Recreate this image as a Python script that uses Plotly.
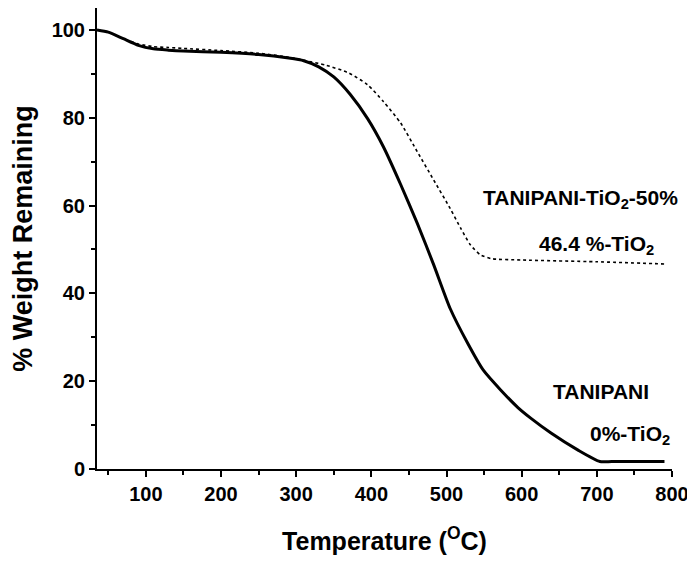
import plotly.graph_objects as go

# TANIPANI (0% TiO2) - solid line
temp_pani = [35, 50, 70, 90, 110, 130, 150, 200, 250, 290, 310, 330, 350, 372, 395, 416, 439, 461, 483, 505, 528, 549, 572, 595, 612, 639, 675, 704, 720, 790]
wt_pani = [100, 99.5, 98.0, 96.5, 95.7, 95.4, 95.2, 94.9, 94.4, 93.6, 93.0, 91.6, 89.3, 85.3, 79.8, 73.4, 64.8, 56.0, 46.5, 36.5, 28.7, 22.5, 18.0, 14.0, 11.6, 8.2, 4.3, 1.7, 1.7, 1.7]

# TANIPANI-TiO2-50% - dotted line
temp_tio2 = [35, 50, 70, 90, 110, 130, 150, 200, 250, 290, 310, 339, 370, 395, 416, 439, 461, 483, 505, 519, 532, 545, 560, 600, 700, 790]
wt_tio2 = [100, 99.5, 98.0, 96.8, 96.2, 96.0, 95.8, 95.3, 94.7, 93.8, 93.1, 92.0, 90.2, 87.5, 83.7, 78.8, 72.3, 65.8, 59.3, 54.8, 51.0, 48.8, 47.9, 47.6, 47.2, 46.7]

x_ticks = [100, 200, 300, 400, 500, 600, 700, 800]
y_ticks = [0, 20, 40, 60, 80, 100]

FONT = "Liberation Sans, Arial, sans-serif"

fig = go.Figure()
fig.add_trace(go.Scatter(x=temp_tio2, y=wt_tio2, mode="lines",
                         line=dict(color="black", width=1.6, dash="dot", shape="spline", smoothing=0.6),
                         showlegend=False))
fig.add_trace(go.Scatter(x=temp_pani, y=wt_pani, mode="lines",
                         line=dict(color="black", width=3, shape="spline", smoothing=0.6),
                         showlegend=False))

ann_font = dict(family=FONT, size=21, color="black", weight="bold")
annotations = [
    dict(x=678, y=61.5, text="TANIPANI-TiO<sub>2</sub>-50%"),
    dict(x=699, y=51.0, text="46.4 %-TiO<sub>2</sub>"),
    dict(x=705, y=17.6, text="TANIPANI"),
    dict(x=744, y=7.8, text="0%-TiO<sub>2</sub>"),
]
for a in annotations:
    a.update(xref="x", yref="y", showarrow=False, font=ann_font, xanchor="center", yanchor="middle")

fig.update_layout(
    width=687, height=561,
    margin=dict(l=89, r=23, t=0, b=100),
    paper_bgcolor="white", plot_bgcolor="white",
    font=dict(family=FONT, color="black"),
    annotations=annotations,
    xaxis=dict(range=[35, 800], tickvals=x_ticks, showline=True, linecolor="black", linewidth=2,
               ticks="outside", ticklen=6, tickwidth=2, tickcolor="black",
               minor=dict(tickvals=[50, 150, 250, 350, 450, 550, 650, 750], ticks="outside", ticklen=4, tickwidth=2, tickcolor="black"),
               showgrid=False, zeroline=False,
               tickfont=dict(family=FONT, size=20, weight="bold"),
               title=dict(text="Temperature (<sup>O</sup>C)", font=dict(family=FONT, size=25, weight="bold"), standoff=28)),
    yaxis=dict(range=[0, 105], tickvals=y_ticks, showline=True, linecolor="black", linewidth=2,
               ticks="outside", ticklen=6, tickwidth=2, tickcolor="black",
               minor=dict(tickvals=[10, 30, 50, 70, 90], ticks="outside", ticklen=4, tickwidth=2, tickcolor="black"),
               showgrid=False, zeroline=False,
               tickfont=dict(family=FONT, size=20, weight="bold"),
               title=dict(text="% Weight Remaining", font=dict(family=FONT, size=27, weight="bold"), standoff=18)),
)

fig.write_html("out.html")
